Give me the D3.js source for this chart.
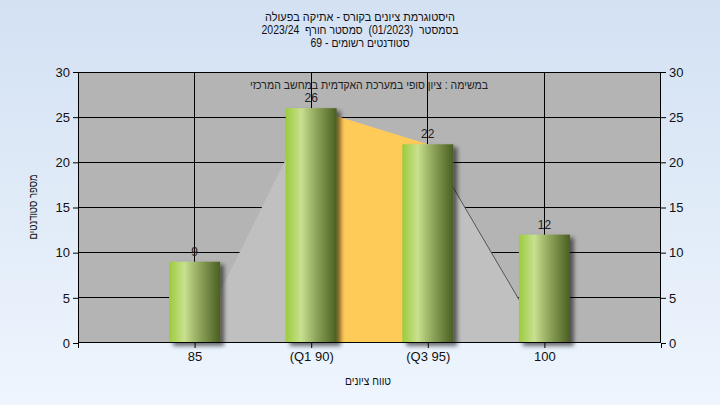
<!DOCTYPE html>
<html><head><meta charset="utf-8">
<script src="https://cdn.jsdelivr.net/npm/d3@7"></script>
<style>
html,body{margin:0;padding:0;}
svg{display:block;font-family:"Liberation Sans",Arial,sans-serif;}
</style></head>
<body>
<svg id="chart" width="720" height="405"></svg>
<script>
const categories = ["85", "(Q1 90)", "(Q3 95)", "100"];
const counts = [9, 26, 22, 12];
const curveValues = [0, 26, 22, 0];
const iqrCategories = ["(Q1 90)", "(Q3 95)"];
const yTicks = [0, 5, 10, 15, 20, 25, 30];
const titleLines = ["היסטוגרמת ציונים בקורס - אתיקה בפעולה", "בסמסטר  (01/2023)  סמסטר חורף  2023/24", "סטודנטים רשומים - 69"];
const subTitle = "במשימה : ציון סופי במערכת האקדמית במחשב המרכזי";
const xTitle = "טווח ציונים";
const yTitle = "מספר סטודנטים";

const W = 720, H = 405;
const m = {l: 78, r: 661, t: 72, b: 343};
const svg = d3.select("#chart");
const defs = svg.append("defs");

const bg = defs.append("linearGradient").attr("id","bg").attr("x1",0).attr("y1",0).attr("x2",0).attr("y2",1);
bg.append("stop").attr("offset","0%").attr("stop-color","#d3e1f3");
bg.append("stop").attr("offset","100%").attr("stop-color","#eef5fd");

const bar = defs.append("linearGradient").attr("id","bar").attr("x1",0).attr("y1",0).attr("x2",1).attr("y2",0);
[["0%","#9ccb3c"],["30%","#c8e08f"],["60%","#8ea45a"],["100%","#4a5f22"]].forEach(s=>bar.append("stop").attr("offset",s[0]).attr("stop-color",s[1]));

const sh = defs.append("filter").attr("id","shadow").attr("x","-20%").attr("y","-20%").attr("width","150%").attr("height","150%");
sh.append("feDropShadow").attr("dx",4).attr("dy",3).attr("stdDeviation",2).attr("flood-color","#000").attr("flood-opacity",0.55);

svg.append("rect").attr("width",W).attr("height",H).attr("fill","url(#bg)");

const x = d3.scalePoint().domain(categories).range([m.l, m.r]).padding(1);
const y = d3.scaleLinear().domain([0,30]).range([m.b, m.t]);

// plot background
svg.append("rect").attr("x",m.l).attr("y",m.t).attr("width",m.r-m.l).attr("height",m.b-m.t).attr("fill","#b4b4b4");

// gridlines
svg.append("g").selectAll("line.h").data(yTicks.filter(d=>d>0&&d<30)).join("line")
  .attr("x1",m.l).attr("x2",m.r).attr("y1",d=>y(d)).attr("y2",d=>y(d)).attr("stroke","#000").attr("stroke-width",1).attr("shape-rendering","crispEdges");
svg.append("g").selectAll("line.v").data(categories).join("line")
  .attr("x1",d=>x(d)).attr("x2",d=>x(d)).attr("y1",m.t).attr("y2",m.b).attr("stroke","#000").attr("stroke-width",1).attr("shape-rendering","crispEdges");

// distribution area
const curveData = categories.map((c,i)=>({c, v: curveValues[i]}));
svg.append("path").datum(curveData)
  .attr("d", d3.area().x(d=>x(d.c)).y0(y(0)).y1(d=>y(d.v)))
  .attr("fill","#c0c0c0");
svg.append("path").datum(curveData.slice(2))
  .attr("d", d3.line().x(d=>x(d.c)).y(d=>y(d.v)))
  .attr("fill","none").attr("stroke","#555").attr("stroke-width",1);

// IQR area
const iqrData = iqrCategories.map(c=>({c, v: counts[categories.indexOf(c)]}));
svg.append("path").datum(iqrData)
  .attr("d", d3.area().x(d=>x(d.c)).y0(y(0)).y1(d=>y(d.v)))
  .attr("fill","#ffcb58");

// bars
const bw = 51;
svg.append("g").selectAll("rect").data(categories).join("rect")
  .attr("x",d=>x(d)-bw/2).attr("width",bw)
  .attr("y",(d,i)=>y(counts[i])).attr("height",(d,i)=>y(0)-y(counts[i]))
  .attr("fill","url(#bar)").attr("filter","url(#shadow)");

// value labels
svg.append("g").selectAll("text").data(categories).join("text")
  .attr("x",d=>x(d)).attr("y",(d,i)=>y(counts[i])-6)
  .attr("text-anchor","middle").attr("font-size",12).attr("fill","#222")
  .text((d,i)=>counts[i]);

// frame
svg.append("rect").attr("x",m.l+0.5).attr("y",m.t+0.5).attr("width",m.r-m.l-1).attr("height",m.b-m.t-1)
  .attr("fill","none").attr("stroke","#000").attr("stroke-width",1);

// axes
const left = svg.append("g").attr("transform",`translate(${m.l},0)`)
  .call(d3.axisLeft(y).tickValues(yTicks).tickSize(5).tickPadding(3));
const right = svg.append("g").attr("transform",`translate(${m.r},0)`)
  .call(d3.axisRight(y).tickValues(yTicks).tickSize(5).tickPadding(3));
const bottom = svg.append("g").attr("transform",`translate(0,${m.b})`)
  .call(d3.axisBottom(x).tickSize(5).tickPadding(4));
[left,right,bottom].forEach(g=>{
  g.select(".domain").remove();
  g.selectAll("line").attr("stroke","#000");
  g.selectAll("text").attr("font-size",13).attr("fill","#111").attr("font-family","'Liberation Sans',Arial,sans-serif");
});
// edge ticks on x axis
svg.append("g").selectAll("line").data([m.l, m.r]).join("line")
  .attr("x1",d=>d+0.5).attr("x2",d=>d+0.5).attr("y1",m.b).attr("y2",m.b+5).attr("stroke","#000");

// titles
const titleWidths = [190, 197, 99];
svg.append("g").selectAll("text").data(titleLines).join("text")
  .attr("x",360).attr("y",(d,i)=>21+i*13).attr("text-anchor","middle").attr("direction","rtl")
  .attr("xml:space","preserve").style("white-space","pre")
  .attr("textLength",(d,i)=>titleWidths[i]).attr("lengthAdjust","spacingAndGlyphs")
  .attr("font-size",12).attr("fill","#111").text(d=>d);
svg.append("text").attr("x",369).attr("y",89).attr("text-anchor","middle").attr("direction","rtl")
  .attr("textLength",238).attr("lengthAdjust","spacingAndGlyphs")
  .attr("font-size",12).attr("fill","#222").text(subTitle);
svg.append("text").attr("x",368).attr("y",385).attr("text-anchor","middle").attr("direction","rtl")
  .attr("textLength",46).attr("lengthAdjust","spacingAndGlyphs")
  .attr("font-size",12).attr("fill","#111").text(xTitle);
svg.append("text").attr("transform",`translate(37,207) rotate(-90)`).attr("text-anchor","middle").attr("direction","rtl")
  .attr("textLength",65).attr("lengthAdjust","spacingAndGlyphs")
  .attr("font-size",12).attr("fill","#111").text(yTitle);
</script>
</body></html>
